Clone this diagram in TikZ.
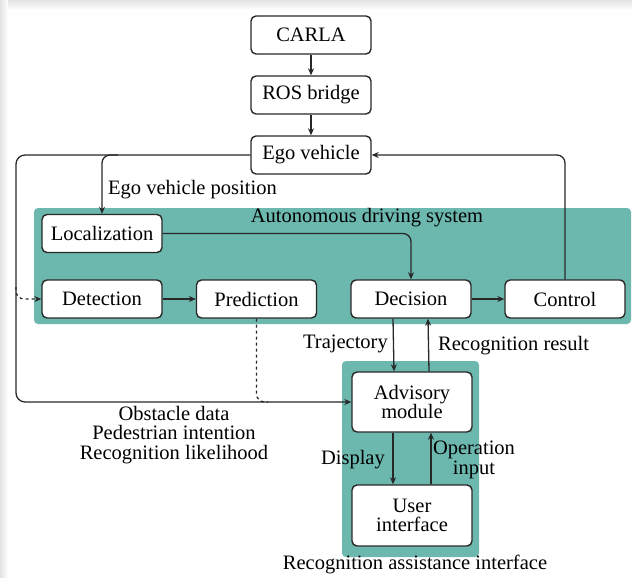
\documentclass[tikz,border=0pt]{standalone}
\usepackage{fontspec}
\setmainfont{Liberation Serif}
\usetikzlibrary{arrows.meta}
\definecolor{tealbg}{RGB}{108,184,175}
\definecolor{ink}{RGB}{40,40,40}
\newcommand{\diagfont}{\rmfamily\fontsize{20.5}{19.5}\selectfont}
\tikzset{
  block/.style={draw=ink, line width=1.4pt, fill=white, rounded corners=5pt, minimum width=120pt, minimum height=38pt, inner sep=2pt, align=center, font=\diagfont},
  arr/.style={draw=ink, line width=1.3pt, -{Stealth[length=7pt,width=6pt]}},
  lbl/.style={inner sep=1pt, align=center, font=\diagfont}
}
\begin{document}
\begin{tikzpicture}[x=1pt, y=-1pt, font=\diagfont]
  \useasboundingbox (0,0) rectangle (632,578);
  % screenshot edge
  \shade[top color=gray!22, bottom color=white] (0,0) rectangle (632,10);
  \shade[left color=gray!22, right color=white] (0,0) rectangle (8,578);

  % group backgrounds
  \fill[tealbg, rounded corners=4pt] (34,208) rectangle (631,324);
  \node[lbl] (adslbl) at (367,218) {Autonomous driving system};
  \fill[tealbg, rounded corners=4pt] (342,361) rectangle (479,557);
  \node[lbl] (raislbl) at (415,564) {Recognition assistance interface};

  % blocks
  \node[block] (carla) at (311,35) {CARLA};
  \node[block] (ros) at (311,95) {ROS bridge};
  \node[block] (ego) at (311,155) {Ego vehicle};
  \node[block] (loc) at (102,233.5) {Localization};
  \node[block] (det) at (102,299) {Detection};
  \node[block] (pred) at (256.5,299) {Prediction};
  \node[block] (dec) at (411,299) {Decision};
  \node[block] (ctrl) at (565,299) {Control};
  \node[block, minimum height=60pt] (adv) at (412,402) {Advisory\\module};
  \node[block, minimum height=61pt] (ui) at (412,515.5) {User\\interface};

  % helper points
  \coordinate (rail) at (16,300);
  \coordinate (detbranch) at (16,287);
  \coordinate (posbranch) at (118,155);
  \coordinate (predjoin) at (268,402);

  % connectors
  \draw[arr] (carla) -- (ros);
  \draw[arr] (ros) -- (ego);
  \draw[arr, rounded corners=9pt] (ego.west) -| (rail) |- (adv.west);
  \draw[arr, dashed, rounded corners=8pt] (detbranch) |- (det.west);
  \draw[arr, rounded corners=8pt] (posbranch) -| (loc.north);
  \draw[arr, rounded corners=8pt] (loc.east) -| (dec.north);
  \draw[arr] (det) -- (pred);
  \draw[arr] (dec) -- (ctrl);
  \draw[arr, rounded corners=8pt] (ctrl.north) |- (ego.east);
  \draw[draw=ink, line width=1.3pt, dashed, rounded corners=8pt] (pred.south) |- (predjoin);
  \draw[arr] ([xshift=-18pt]dec.south) -- ([xshift=-18pt]adv.north);
  \draw[arr] ([xshift=17pt]adv.north) -- ([xshift=17pt]dec.south);
  \draw[arr] ([xshift=-19pt]adv.south) -- ([xshift=-19pt]ui.north);
  \draw[arr] ([xshift=19pt]ui.north) -- ([xshift=19pt]adv.south);

  % labels
  \node[lbl, anchor=west] (poslbl) at (107,190) {Ego vehicle position};
  \node[lbl, anchor=east] (trajlbl) at (389,344) {Trajectory};
  \node[lbl, anchor=west] (reslbl) at (437,346) {Recognition result};
  \node[lbl, anchor=east] (displbl) at (386,460) {Display};
  \node[lbl] (oplbl) at (474,460) {Operation\\input};
  \node[lbl] (obslbl) at (174,435) {Obstacle data\\Pedestrian intention\\Recognition likelihood};
\end{tikzpicture}
\end{document}
